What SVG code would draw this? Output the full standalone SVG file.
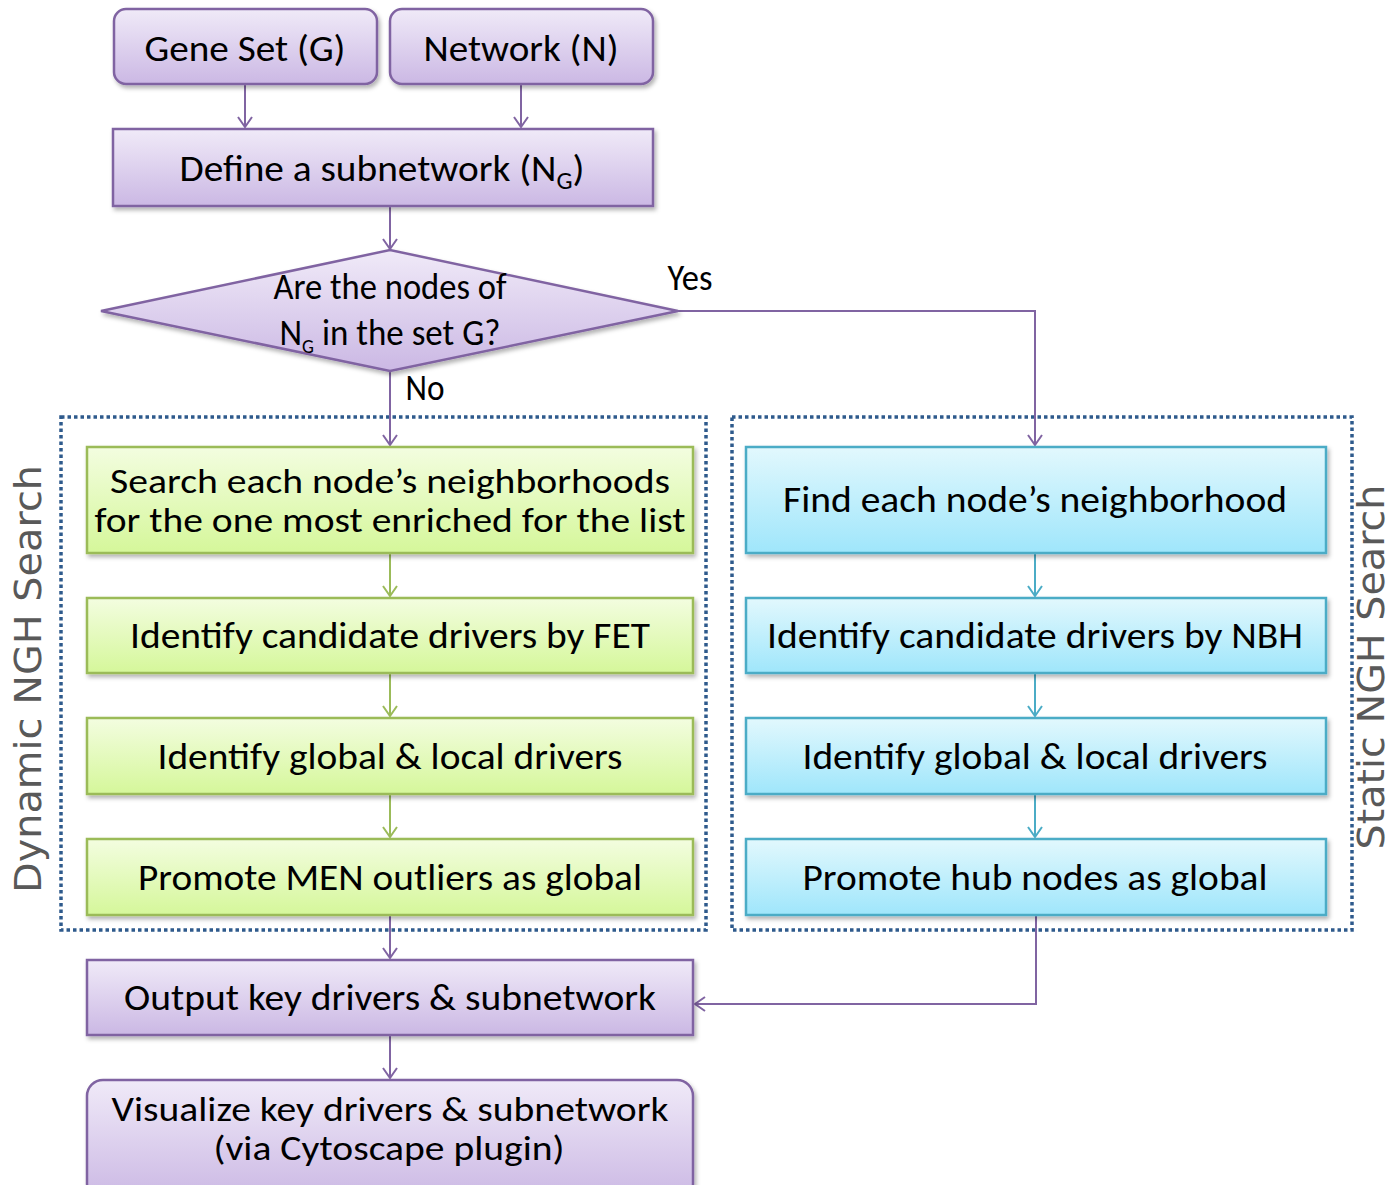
<svg xmlns="http://www.w3.org/2000/svg" width="1393" height="1185" viewBox="0 0 1393 1185">
<defs>
<linearGradient id="gP" x1="0" y1="0" x2="0" y2="1"><stop offset="0" stop-color="#f0eaf8"/><stop offset="1" stop-color="#cbb8e4"/></linearGradient>
<linearGradient id="gG" x1="0" y1="0" x2="0" y2="1"><stop offset="0" stop-color="#f3fde0"/><stop offset="1" stop-color="#d5f79a"/></linearGradient>
<linearGradient id="gB" x1="0" y1="0" x2="0" y2="1"><stop offset="0" stop-color="#e2f8fd"/><stop offset="1" stop-color="#9fe6fb"/></linearGradient>
<filter id="sh" x="-5%" y="-10%" width="110%" height="130%"><feDropShadow dx="2" dy="3" stdDeviation="2" flood-color="#000" flood-opacity="0.3"/></filter>
<marker id="aP" markerWidth="16" markerHeight="16" refX="13" refY="8" orient="auto" markerUnits="userSpaceOnUse" viewBox="0 0 16 16"><path d="M3,1 L13,8 L3,15" fill="none" stroke="#8064a2" stroke-width="2"/></marker>
<marker id="aG" markerWidth="16" markerHeight="16" refX="13" refY="8" orient="auto" markerUnits="userSpaceOnUse" viewBox="0 0 16 16"><path d="M3,1 L13,8 L3,15" fill="none" stroke="#9bbb59" stroke-width="2"/></marker>
<marker id="aB" markerWidth="16" markerHeight="16" refX="13" refY="8" orient="auto" markerUnits="userSpaceOnUse" viewBox="0 0 16 16"><path d="M3,1 L13,8 L3,15" fill="none" stroke="#4bacc6" stroke-width="2"/></marker>
</defs>
<style>
.t{font-family:Carlito,Lato,"Liberation Sans",sans-serif;font-size:37px;fill:#000;text-anchor:middle}
.t2{font-size:34px}
.p{fill:url(#gP);stroke:#8064a2;stroke-width:2.5;filter:url(#sh)}
.g{fill:url(#gG);stroke:#9bbb59;stroke-width:2.5;filter:url(#sh)}
.b{fill:url(#gB);stroke:#4bacc6;stroke-width:2.5;filter:url(#sh)}
.dot{fill:none;stroke:#2e5a8c;stroke-width:3.5;stroke-dasharray:3.5 3}
.side{font-family:"DejaVu Sans",Verdana,sans-serif;font-size:38px;fill:#595959;text-anchor:middle}
.cp{fill:none;stroke:#8064a2;stroke-width:2}
.cg{fill:none;stroke:#9bbb59;stroke-width:2}
.cb{fill:none;stroke:#4bacc6;stroke-width:2}
.sub{font-size:24px}
</style>
<rect width="1393" height="1185" fill="#fff"/>

<g id="groups">
<rect class="dot" x="61" y="417" width="645" height="513"/>
<rect class="dot" x="732" y="417" width="620" height="513"/>
<text class="side" transform="translate(41,679) rotate(-90)" textLength="428" lengthAdjust="spacingAndGlyphs">Dynamic NGH Search</text>
<text class="side" transform="translate(1384,667) rotate(-90)" textLength="365" lengthAdjust="spacingAndGlyphs">Static NGH Search</text>
</g>

<g id="connectors">
<line class="cp" x1="245" y1="85" x2="245" y2="127" marker-end="url(#aP)"/>
<line class="cp" x1="521" y1="85" x2="521" y2="127" marker-end="url(#aP)"/>
<line class="cp" x1="390" y1="207" x2="390" y2="249" marker-end="url(#aP)"/>
<polyline class="cp" points="678,311 1035,311 1035,445" marker-end="url(#aP)"/>
<line class="cp" x1="390" y1="371" x2="390" y2="445" marker-end="url(#aP)"/>
<line class="cg" x1="390" y1="554" x2="390" y2="596" marker-end="url(#aG)"/>
<line class="cg" x1="390" y1="674" x2="390" y2="716" marker-end="url(#aG)"/>
<line class="cg" x1="390" y1="795" x2="390" y2="837" marker-end="url(#aG)"/>
<line class="cb" x1="1035" y1="554" x2="1035" y2="596" marker-end="url(#aB)"/>
<line class="cb" x1="1035" y1="674" x2="1035" y2="716" marker-end="url(#aB)"/>
<line class="cb" x1="1035" y1="795" x2="1035" y2="837" marker-end="url(#aB)"/>
<line class="cp" x1="390" y1="916" x2="390" y2="958" marker-end="url(#aP)"/>
<polyline class="cp" points="1036,916 1036,1004 695,1004" marker-end="url(#aP)"/>
<line class="cp" x1="390" y1="1036" x2="390" y2="1078" marker-end="url(#aP)"/>
<text class="t" x="690" y="290" font-size="30" textLength="45" lengthAdjust="spacingAndGlyphs">Yes</text>
<text class="t" x="425" y="400" font-size="30" textLength="39" lengthAdjust="spacingAndGlyphs">No</text>
</g>

<g id="geneset">
<rect class="p" x="114" y="9" width="263" height="75" rx="12"/>
<text class="t" x="245" y="61" textLength="201" lengthAdjust="spacingAndGlyphs">Gene Set (G)</text>
</g>
<g id="network">
<rect class="p" x="390" y="9" width="263" height="75" rx="12"/>
<text class="t" x="521" y="61" textLength="195" lengthAdjust="spacingAndGlyphs">Network (N)</text>
</g>
<g id="define">
<rect class="p" x="113" y="129" width="540" height="77"/>
<text class="t" x="382" y="181" textLength="405" lengthAdjust="spacingAndGlyphs">Define a subnetwork (N<tspan class="sub" dy="8">G</tspan><tspan dy="-8">)</tspan></text>
</g>
<g id="decision">
<polygon class="p" points="101,311 390,250 678,311 390,371"/>
<text class="t" x="390" y="299" font-size="30" textLength="233" lengthAdjust="spacingAndGlyphs">Are the nodes of</text>
<text class="t" x="390" y="345" font-size="30" textLength="221" lengthAdjust="spacingAndGlyphs">N<tspan font-size="20" dy="8">G</tspan><tspan dy="-8"> in the set G?</tspan></text>
</g>

<g id="dyn1">
<rect class="g" x="87" y="447" width="606" height="106"/>
<text class="t t2" x="390" y="493" textLength="560" lengthAdjust="spacingAndGlyphs">Search each node’s neighborhoods</text>
<text class="t t2" x="390" y="532" textLength="591" lengthAdjust="spacingAndGlyphs">for the one most enriched for the list</text>
</g>
<g id="dyn2">
<rect class="g" x="87" y="598" width="606" height="75"/>
<text class="t" x="390" y="648" textLength="520" lengthAdjust="spacingAndGlyphs">Identify candidate drivers by FET</text>
</g>
<g id="dyn3">
<rect class="g" x="87" y="718" width="606" height="76"/>
<text class="t" x="390" y="769" textLength="465" lengthAdjust="spacingAndGlyphs">Identify global &amp; local drivers</text>
</g>
<g id="dyn4">
<rect class="g" x="87" y="839" width="606" height="76"/>
<text class="t" x="390" y="890" textLength="504" lengthAdjust="spacingAndGlyphs">Promote MEN outliers as global</text>
</g>

<g id="sta1">
<rect class="b" x="746" y="447" width="580" height="106"/>
<text class="t" x="1035" y="512" textLength="504" lengthAdjust="spacingAndGlyphs">Find each node’s neighborhood</text>
</g>
<g id="sta2">
<rect class="b" x="746" y="598" width="580" height="75"/>
<text class="t" x="1035" y="648" textLength="536" lengthAdjust="spacingAndGlyphs">Identify candidate drivers by NBH</text>
</g>
<g id="sta3">
<rect class="b" x="746" y="718" width="580" height="76"/>
<text class="t" x="1035" y="769" textLength="465" lengthAdjust="spacingAndGlyphs">Identify global &amp; local drivers</text>
</g>
<g id="sta4">
<rect class="b" x="746" y="839" width="580" height="76"/>
<text class="t" x="1035" y="890" textLength="465" lengthAdjust="spacingAndGlyphs">Promote hub nodes as global</text>
</g>

<g id="output">
<rect class="p" x="87" y="960" width="606" height="75"/>
<text class="t" x="390" y="1010" textLength="532" lengthAdjust="spacingAndGlyphs">Output key drivers &amp; subnetwork</text>
</g>
<g id="visualize">
<rect class="p" x="87" y="1080" width="606" height="120" rx="16"/>
<text class="t t2" x="390" y="1121" textLength="557" lengthAdjust="spacingAndGlyphs">Visualize key drivers &amp; subnetwork</text>
<text class="t t2" x="389" y="1160" textLength="351" lengthAdjust="spacingAndGlyphs">(via Cytoscape plugin)</text>
</g>
</svg>
